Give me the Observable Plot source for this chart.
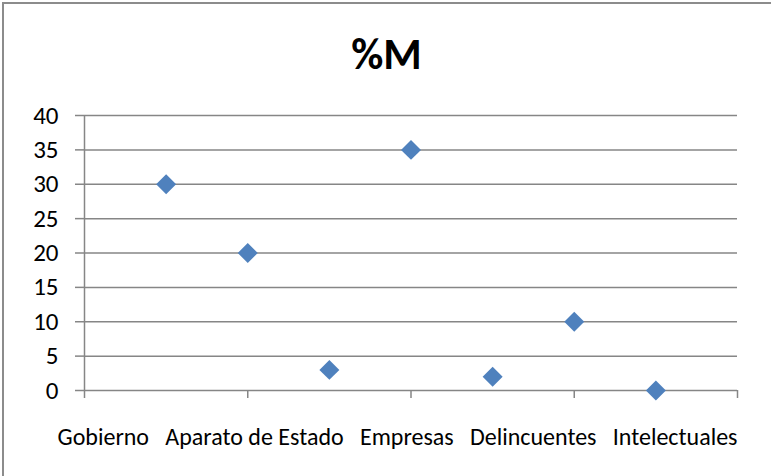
<!DOCTYPE html>
<html>
<head>
<meta charset="utf-8">
<script src="https://cdn.jsdelivr.net/npm/d3@7"></script>
<script src="https://cdn.jsdelivr.net/npm/@observablehq/plot@0.6"></script>
<style>
  html, body { margin: 0; padding: 0; background: #fff; }
  #chart {
    position: relative;
    margin-left: 2px; margin-top: 2px;
    width: 769px; height: 474px;
    border-left: 2px solid #8c8c8c; border-top: 2px solid #8c8c8c;
    box-sizing: border-box;
    font-family: Carlito, Calibri, Lato, sans-serif;
    overflow: hidden;
  }
  #title {
    height: 100px; line-height: 100px; text-align: center;
    font-weight: bold; font-size: 44px; color: #000;
    padding-right: 2px;
  }
</style>
</head>
<body>
<div id="chart"><div id="title"></div></div>
<script>
const title = "%M";
const xPositions = [1, 2, 3, 4, 5, 6, 7];
const values = [30, 20, 3, 35, 2, 10, 0];
const xLabels = ["Gobierno", "Aparato de Estado", "Empresas", "Delincuentes", "Intelectuales"];
const yTicks = [0, 5, 10, 15, 20, 25, 30, 35, 40];
const xTicks = [0, 2, 4, 6, 8];

document.getElementById("title").textContent = title;
const data = xPositions.map((x, i) => ({x, y: values[i]}));
const gray = "#868686";
const gap = "\u00a0\u00a0\u00a0";

const plot = Plot.plot({
  width: 767,
  height: 372,
  marginLeft: 80,
  marginRight: 34,
  marginTop: 11,
  marginBottom: 86,
  style: {fontFamily: "Carlito, Calibri, Lato, sans-serif", fontSize: "24px", color: "#000", background: "#fff", overflow: "visible"},
  x: {type: "linear", domain: [0, 8], axis: null, label: null},
  y: {type: "linear", domain: [0, 40], axis: null, label: null},
  marks: [
    Plot.ruleY(yTicks, {stroke: gray, strokeWidth: 1.5, strokeOpacity: 1}),
    Plot.axisY({ticks: yTicks, label: null, tickSize: 9, tickPadding: 17, stroke: gray, strokeWidth: 1.5, strokeOpacity: 1, fill: "#000", fontSize: 25, tickFormat: d => String(d)}),
    Plot.axisX({ticks: xTicks, label: null, tickSize: 8, tickFormat: () => "", stroke: gray, strokeWidth: 1.5, strokeOpacity: 1}),
    Plot.ruleX([0], {stroke: gray, strokeWidth: 1.5}),
    Plot.dot(data, {x: "x", y: "y", symbol: "diamond2", r: 9, fill: "#4f81bd", stroke: "none"}),
    Plot.text([xLabels.join(gap)], {x: () => 8, y: () => 0, text: d => d, textAnchor: "end", dy: 47, fontSize: 24, fill: "#000"})
  ]
});
document.getElementById("chart").appendChild(plot);
</script>
</body>
</html>
